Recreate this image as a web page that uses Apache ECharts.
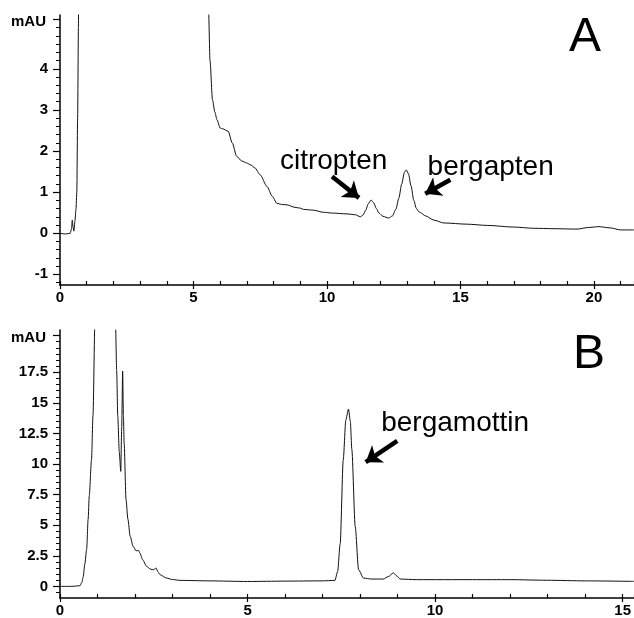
<!DOCTYPE html>
<html>
<head>
<meta charset="utf-8">
<script src="https://cdn.jsdelivr.net/npm/echarts@6/dist/echarts.min.js"></script>
<style>
html,body{margin:0;padding:0;background:#fff;}
#chart{width:634px;height:618px;}
</style>
</head>
<body>
<div id="chart"></div>
<script>
// ---- Panel A (retention time in min, absorbance in mAU) ----
var traceA = [
 [0,0],[0.2,-0.02],[0.38,0],[0.43,0.1],[0.46,0.32],[0.49,0.15],[0.52,0.05],[0.56,0.3],[0.6,0.6],[0.63,1.0],
 [0.66,2.8],[0.69,5],[0.72,9],[0.8,30],[3,40],[5.45,30],[5.56,5.5],[5.62,4.2],[5.71,3.25],[5.8,2.95],
 [5.88,2.76],[6.0,2.56],[6.1,2.54],[6.3,2.48],[6.45,2.2],[6.62,1.87],[6.8,1.76],[6.99,1.71],[7.15,1.66],
 [7.3,1.59],[7.5,1.42],[7.75,1.14],[7.95,0.9],[8.12,0.73],[8.3,0.7],[8.5,0.69],[8.8,0.63],[9.0,0.61],
 [9.12,0.58],[9.5,0.56],[9.86,0.51],[10.2,0.49],[10.75,0.47],[11.06,0.45],[11.25,0.40],[11.35,0.44],
 [11.45,0.56],[11.55,0.72],[11.65,0.81],[11.75,0.74],[11.85,0.6],[11.95,0.49],[12.1,0.41],[12.31,0.37],
 [12.45,0.42],[12.58,0.58],[12.69,0.85],[12.8,1.2],[12.9,1.48],[12.97,1.54],[13.05,1.45],[13.15,1.15],
 [13.25,0.8],[13.35,0.6],[13.45,0.52],[13.7,0.42],[14.0,0.32],[14.37,0.25],
 [15.25,0.22],[16,0.19],[17,0.15],[17.74,0.12],[18.5,0.11],[19.37,0.10],[19.8,0.14],[20.19,0.16],
 [20.6,0.13],[21.0,0.08],[21.5,0.08]
];
var xLabelStepA = 5;
var xMinorStepA = 1;
var yLabelsA = [-1,0,1,2,3,4];
var yMinorA = [];
for (var i = -6; i <= 26; i++) yMinorA.push(+(i*0.2).toFixed(1));

// ---- Panel B ----
var traceB = [
 [0,0],[0.3,0],[0.53,0.05],[0.58,0.3],[0.62,0.8],[0.66,1.8],[0.71,3.0],[0.75,5.5],[0.78,7.4],[0.84,10.35],
 [0.88,14],[0.93,21.5],[1.0,35],[1.2,45],[1.44,30],[1.48,21.5],[1.51,17.7],[1.54,13.9],[1.58,11],[1.62,9.4],
 [1.645,13],[1.67,17.6],[1.69,14],[1.71,11.7],[1.76,7.1],[1.81,5.5],[1.87,4.1],[1.95,3.27],[2.03,2.9],
 [2.09,2.95],[2.13,2.72],[2.2,2.2],[2.31,1.63],[2.42,1.4],[2.49,1.36],[2.56,1.5],[2.62,1.15],[2.67,0.95],
 [2.84,0.68],[3.0,0.56],[3.2,0.49],[4,0.45],[5,0.4],[6,0.43],[7,0.45],[7.33,0.49],[7.4,1.2],[7.47,3.5],
 [7.55,10.3],[7.62,13.6],[7.69,14.5],[7.74,13.5],[7.78,11.2],[7.87,4.9],[7.96,1.36],[8.09,0.68],[8.3,0.6],
 [8.62,0.6],[8.75,0.8],[8.89,1.1],[8.98,0.85],[9.07,0.6],[9.5,0.55],[11,0.55],[12,0.55],[13,0.5],[14,0.45],[15.3,0.41]
];
var xLabelStepB = 5;
var xMinorStepB = 1;
var yLabelsB = [0,2.5,5,7.5,10,12.5,15,17.5];
var yMinorB = [];
for (var j = -1; j <= 41; j++) yMinorB.push(j*0.5);

// annotations: [label, textX, textY, arrowFromX, arrowFromY, arrowToX, arrowToY]
var notesA = [
 ['citropten', 8.22, 1.74, 10.19, 1.38, 11.2, 0.86],
 ['bergapten', 13.75, 1.6, 14.62, 1.30, 13.68, 0.96]
];
var notesB = [
 ['bergamottin', 8.55, 13.3, 8.99, 11.9, 8.15, 10.15]
];

var FONT = "'Liberation Sans', Arial, Helvetica, sans-serif";
var chart = echarts.init(document.getElementById('chart'), null, {renderer:'canvas'});

function xMain(grid, max, step){
  return {type:'value', gridIndex:grid, position:'bottom', min:0, max:max, interval:step,
    axisLine:{show:true, onZero:false, lineStyle:{color:'#000', width:1.5}},
    axisTick:{show:true, inside:false, length:4, lineStyle:{color:'#000', width:1.2}},
    axisLabel:{show:true, margin:5, color:'#000', fontWeight:'bold', fontSize:15, fontFamily:FONT,
      showMaxLabel:false, hideOverlap:false,
      formatter:function(v){ return (Math.abs(v % step) < 1e-9) ? String(v) : ''; }},
    splitLine:{show:false}};
}
// tick-only axis placed on top edge of a thin helper grid that sits on the main x axis line
function xTicks(grid, max, step){
  return {type:'value', gridIndex:grid, position:'top', min:0, max:max, interval:step,
    axisLine:{show:false, onZero:false},
    axisTick:{show:true, inside:false, length:4, lineStyle:{color:'#000', width:1.2}},
    axisLabel:{show:false}, splitLine:{show:false}};
}
function yHidden(grid){
  return {type:'value', gridIndex:grid, min:0, max:1, show:false};
}
function yMain(grid, min, max, labels, tickVals){
  return {type:'value', gridIndex:grid, position:'left', min:min, max:max,
    axisLine:{show:true, onZero:false, lineStyle:{color:'#000', width:1.5}},
    axisTick:{show:true, inside:false, length:7, customValues:tickVals, lineStyle:{color:'#000', width:1.2}},
    axisLabel:{show:true, margin:12, color:'#000', fontWeight:'bold', fontSize:15, fontFamily:FONT,
      customValues:labels},
    splitLine:{show:false}};
}
function yMinor(grid, min, max, vals){
  return {type:'value', gridIndex:grid, position:'left', min:min, max:max,
    axisLine:{show:false, onZero:false},
    axisTick:{show:true, inside:false, length:4, customValues:vals, lineStyle:{color:'#000', width:1}},
    axisLabel:{show:false}, splitLine:{show:false}};
}
function marks(notes){
  return {
    markPoint:{silent:true, symbol:'circle', symbolSize:1, itemStyle:{color:'rgba(0,0,0,0)'},
      label:{show:true, position:'right', distance:0, color:'#000', fontSize:28, fontFamily:FONT,
        formatter:function(p){return p.name;}},
      data: notes.map(function(n){return {name:n[0], coord:[n[1], n[2]]};})},
    markLine:{silent:true, symbol:['none','arrow'], symbolSize:[16,15], animation:false,
      lineStyle:{color:'#000', width:4.5, type:'solid'}, label:{show:false},
      emphasis:{disabled:true},
      data: notes.map(function(n){return [{coord:[n[3], n[4]]},{coord:[n[5], n[6]]}];})}
  };
}

var sA = {type:'line', xAxisIndex:0, yAxisIndex:0, data:traceA, showSymbol:false, smooth:0.25,
  smoothMonotone:'x', clip:true, lineStyle:{color:'#111', width:1}, animation:false, silent:true};
var sB = {type:'line', xAxisIndex:1, yAxisIndex:2, data:traceB, showSymbol:false, smooth:0.25,
  smoothMonotone:'x', clip:true, lineStyle:{color:'#111', width:1}, animation:false, silent:true};
Object.assign(sA, marks(notesA));
Object.assign(sB, marks(notesB));

chart.setOption({
  animation:false,
  backgroundColor:'#fff',
  grid:[{left:60, top:15, width:574, height:270}, {left:60, top:330, width:574, height:268},
        {left:60, top:285, width:574, height:2}, {left:60, top:598, width:574, height:2}],
  xAxis:[xMain(0, 21.5, xLabelStepA), xMain(1, 15.3, xLabelStepB),
         xTicks(2, 21.5, xMinorStepA), xTicks(3, 15.3, xMinorStepB)],
  yAxis:[yMain(0, -1.26, 5.31, yLabelsA, yLabelsA.concat([5.2])), yMinor(0, -1.26, 5.31, yMinorA),
         yMain(1, -0.95, 20.96, yLabelsB, yLabelsB.concat([20.5])), yMinor(1, -0.95, 20.96, yMinorB),
         yHidden(2), yHidden(3)],
  series:[sA, sB],
  graphic:[
    {type:'text', x:46, y:22, style:{text:'mAU', fill:'#000', font:'bold 15px ' + FONT, align:'right', verticalAlign:'middle'}},
    {type:'text', x:46, y:338, style:{text:'mAU', fill:'#000', font:'bold 15px ' + FONT, align:'right', verticalAlign:'middle'}},
    {type:'text', x:569, y:38, style:{text:'A', fill:'#000', font:'48px ' + FONT, align:'left', verticalAlign:'middle'}},
    {type:'text', x:573, y:355, style:{text:'B', fill:'#000', font:'48px ' + FONT, align:'left', verticalAlign:'middle'}}
  ]
});
</script>
</body>
</html>
